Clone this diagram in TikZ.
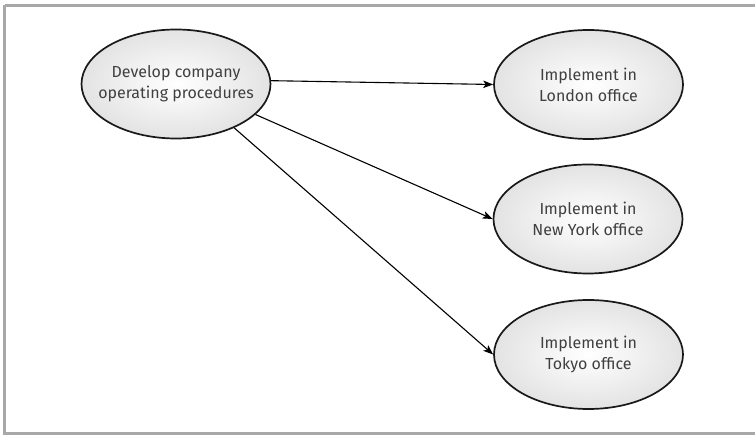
\documentclass[tikz,border=0pt]{standalone}
\usepackage{fontspec}
\setmainfont{Fira Sans}
\usetikzlibrary{arrows.meta,shapes.geometric}
\definecolor{framegray}{HTML}{A8A8AA}
\definecolor{txtgray}{HTML}{404040}
\tikzset{
  bubble/.style={ellipse, draw=black!90, line width=1.7pt, inner sep=0pt,
    minimum width=189pt, minimum height=109pt, inner color=white, outer color=black!11},
  label text/.style={font=\fontsize{16}{21}\selectfont, text=txtgray, align=center, inner sep=0pt},
  link/.style={line width=1.1pt, -{Stealth[length=10pt,width=7.5pt,inset=2.5pt]}}
}
\begin{document}
\begin{tikzpicture}[x=1pt,y=-1pt]
\useasboundingbox (0,0) rectangle (755,435);
\draw[framegray, line width=3pt] (4.5,5.5) -- (4.5,433) -- (760,433);
\draw[framegray, line width=3pt] (4.5,5.5) -- (760,5.5);
\node[bubble] (src) at (176,84) {};
\node[bubble] (lon) at (588.5,84.5) {};
\node[bubble] (ny) at (588,219) {};
\node[bubble] (tok) at (588.5,354.5) {};
\node[label text] (srct) at (src.center) {Develop company\\operating procedures};
\node[label text] (lont) at (lon.center) {Implement in\\London office};
\node[label text] (nyt) at (ny.center) {Implement in\\New York office};
\node[label text] (tokt) at (tok.center) {Implement in\\Tokyo office};
\draw[link] (src.2) -- (lon.west);
\draw[link] (src.-21) -- (ny.west);
\draw[link] (src.-37) -- (tok.west);
\end{tikzpicture}
\end{document}
